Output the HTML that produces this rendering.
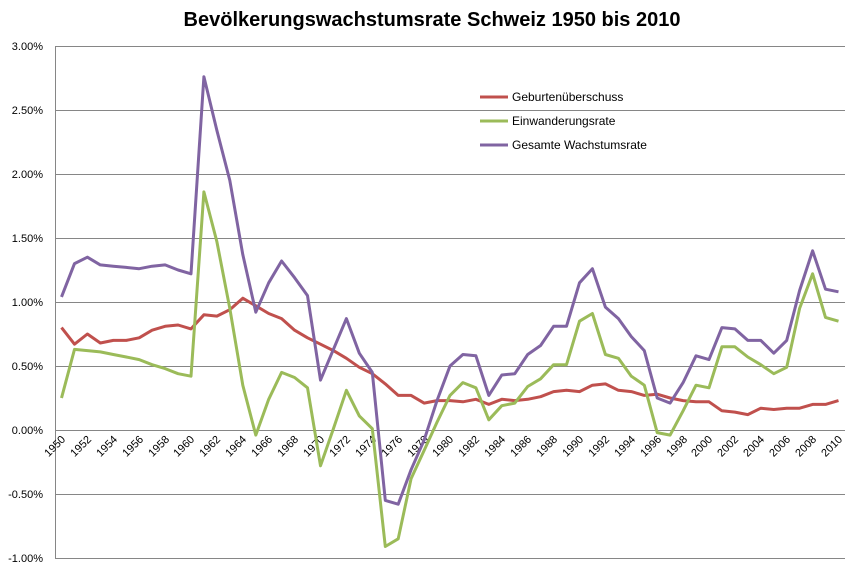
<!DOCTYPE html>
<html><head><meta charset="utf-8"><style>
body{margin:0;background:#fff}
svg{display:block;font-family:"Liberation Sans",Arial,sans-serif}
</style></head><body>
<svg id="c" width="864" height="568" viewBox="0 0 864 568">
<text x="432" y="26" text-anchor="middle" font-size="20" font-weight="bold" fill="#000">Bevölkerungswachstumsrate Schweiz 1950 bis 2010</text>
<g stroke="#868686" stroke-width="1">
<line x1="55" x2="845" y1="46.5" y2="46.5"/><line x1="55" x2="845" y1="110.5" y2="110.5"/>
<line x1="55" x2="845" y1="174.5" y2="174.5"/><line x1="55" x2="845" y1="238.5" y2="238.5"/>
<line x1="55" x2="845" y1="302.5" y2="302.5"/><line x1="55" x2="845" y1="366.5" y2="366.5"/>
<line x1="55" x2="845" y1="430.5" y2="430.5"/><line x1="55" x2="845" y1="494.5" y2="494.5"/>
<line x1="55" x2="845" y1="558.5" y2="558.5"/><line x1="55.5" x2="55.5" y1="46" y2="558"/>
</g>
<g font-size="11" text-anchor="end" fill="#000">
<text x="43" y="50">3.00%</text><text x="43" y="114">2.50%</text><text x="43" y="178">2.00%</text>
<text x="43" y="242">1.50%</text><text x="43" y="306">1.00%</text><text x="43" y="370">0.50%</text>
<text x="43" y="434">0.00%</text><text x="43" y="498">-0.50%</text><text x="43" y="562">-1.00%</text>
</g>
<g id="xl" font-size="11" text-anchor="end" fill="#000">
<text transform="translate(66,440) rotate(-45)">1950</text>
<text transform="translate(92,440) rotate(-45)">1952</text>
<text transform="translate(118,440) rotate(-45)">1954</text>
<text transform="translate(144,440) rotate(-45)">1956</text>
<text transform="translate(170,440) rotate(-45)">1958</text>
<text transform="translate(195,440) rotate(-45)">1960</text>
<text transform="translate(221,440) rotate(-45)">1962</text>
<text transform="translate(247,440) rotate(-45)">1964</text>
<text transform="translate(273,440) rotate(-45)">1966</text>
<text transform="translate(299,440) rotate(-45)">1968</text>
<text transform="translate(325,440) rotate(-45)">1970</text>
<text transform="translate(351,440) rotate(-45)">1972</text>
<text transform="translate(377,440) rotate(-45)">1974</text>
<text transform="translate(403,440) rotate(-45)">1976</text>
<text transform="translate(429,440) rotate(-45)">1978</text>
<text transform="translate(454,440) rotate(-45)">1980</text>
<text transform="translate(480,440) rotate(-45)">1982</text>
<text transform="translate(506,440) rotate(-45)">1984</text>
<text transform="translate(532,440) rotate(-45)">1986</text>
<text transform="translate(558,440) rotate(-45)">1988</text>
<text transform="translate(584,440) rotate(-45)">1990</text>
<text transform="translate(610,440) rotate(-45)">1992</text>
<text transform="translate(636,440) rotate(-45)">1994</text>
<text transform="translate(662,440) rotate(-45)">1996</text>
<text transform="translate(688,440) rotate(-45)">1998</text>
<text transform="translate(713,440) rotate(-45)">2000</text>
<text transform="translate(739,440) rotate(-45)">2002</text>
<text transform="translate(765,440) rotate(-45)">2004</text>
<text transform="translate(791,440) rotate(-45)">2006</text>
<text transform="translate(817,440) rotate(-45)">2008</text>
<text transform="translate(843,440) rotate(-45)">2010</text>
</g>
<polyline id="pr" fill="none" stroke="#c0504d" stroke-width="3" stroke-linejoin="round"/>
<polyline id="pg" fill="none" stroke="#9bbb59" stroke-width="3" stroke-linejoin="round"/>
<polyline id="pp" fill="none" stroke="#8064a2" stroke-width="3" stroke-linejoin="round"/>
<g font-size="12" fill="#000">
<line x1="480" x2="508" y1="97" y2="97" stroke="#c0504d" stroke-width="3"/><text x="512" y="101">Geburtenüberschuss</text>
<line x1="480" x2="508" y1="121" y2="121" stroke="#9bbb59" stroke-width="3"/><text x="512" y="125">Einwanderungsrate</text>
<line x1="480" x2="508" y1="145" y2="145" stroke="#8064a2" stroke-width="3"/><text x="512" y="149">Gesamte Wachstumsrate</text>
</g>
</svg>
<script>
var r=[0.80,0.67,0.75,0.68,0.70,0.70,0.72,0.78,0.81,0.82,0.79,0.90,0.89,0.94,1.03,0.97,0.91,0.87,0.78,0.72,0.67,0.62,0.56,0.49,0.44,0.36,0.27,0.27,0.21,0.23,0.23,0.22,0.24,0.20,0.24,0.23,0.24,0.26,0.30,0.31,0.30,0.35,0.36,0.31,0.30,0.27,0.28,0.25,0.23,0.22,0.22,0.15,0.14,0.12,0.17,0.16,0.17,0.17,0.20,0.20,0.23];
var g=[0.25,0.63,0.62,0.61,0.59,0.57,0.55,0.51,0.48,0.44,0.42,1.86,1.47,0.95,0.35,-0.04,0.24,0.45,0.41,0.33,-0.28,0.01,0.31,0.11,0.01,-0.91,-0.85,-0.38,-0.16,0.06,0.27,0.37,0.33,0.08,0.19,0.21,0.34,0.40,0.51,0.51,0.85,0.91,0.59,0.56,0.42,0.35,-0.02,-0.04,0.15,0.35,0.33,0.65,0.65,0.57,0.51,0.44,0.49,0.95,1.22,0.88,0.85];
var p=[1.04,1.30,1.35,1.29,1.28,1.27,1.26,1.28,1.29,1.25,1.22,2.76,2.34,1.95,1.37,0.92,1.15,1.32,1.19,1.05,0.39,0.63,0.87,0.60,0.45,-0.55,-0.58,-0.31,-0.08,0.23,0.50,0.59,0.58,0.27,0.43,0.44,0.59,0.66,0.81,0.81,1.15,1.26,0.96,0.87,0.73,0.62,0.25,0.21,0.37,0.58,0.55,0.80,0.79,0.70,0.70,0.60,0.70,1.09,1.40,1.10,1.08];
function pts(a){return a.map(function(v,i){return (61.5+i*12.95).toFixed(1)+","+(430-v*128).toFixed(1)}).join(" ")}
document.getElementById("pr").setAttribute("points",pts(r));
document.getElementById("pg").setAttribute("points",pts(g));
document.getElementById("pp").setAttribute("points",pts(p));
</script>
</body></html>
